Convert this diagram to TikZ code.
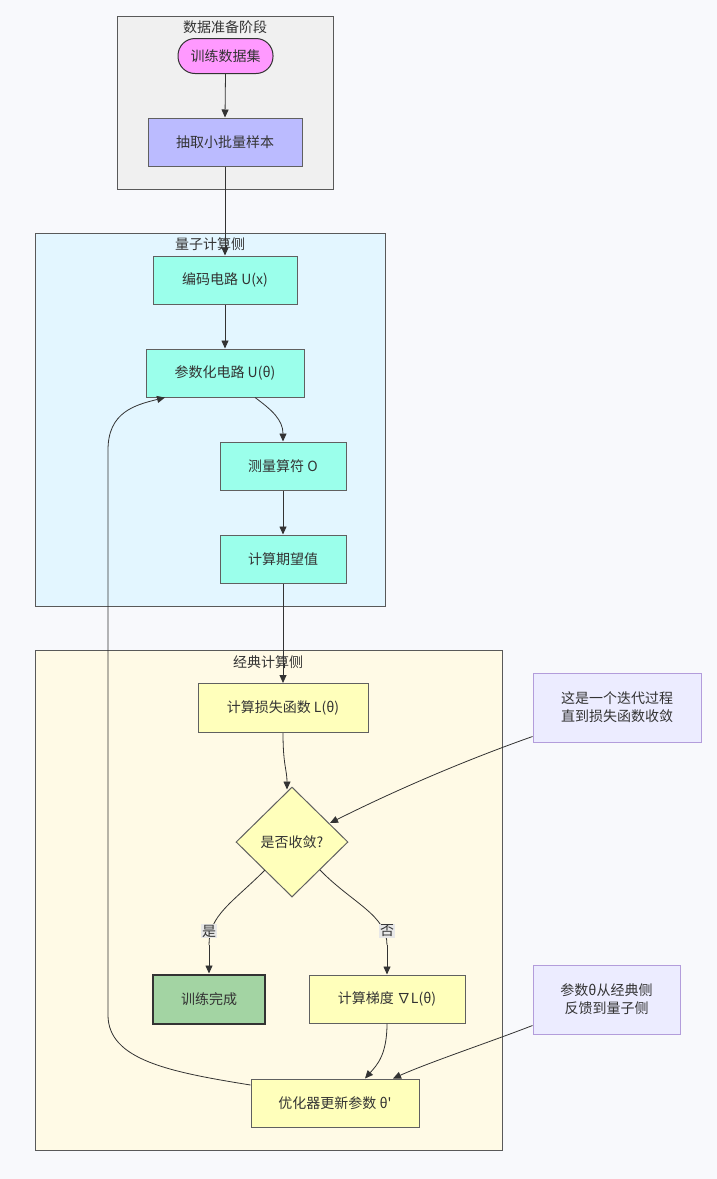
\documentclass[tikz,border=0pt]{standalone}
\usepackage{fontspec}
\setmainfont{Noto Sans CJK SC}[Ligatures=TeXOff]
\usetikzlibrary{arrows.meta,shapes.geometric}
\definecolor{bg}{HTML}{F8F9FC}
\definecolor{ink}{HTML}{333333}
\definecolor{c1fill}{HTML}{F0F0F0}
\definecolor{c2fill}{HTML}{E3F6FF}
\definecolor{c3fill}{HTML}{FFFAE6}
\definecolor{pinkf}{HTML}{FF99FF}
\definecolor{bluef}{HTML}{BBBBFF}
\definecolor{cyanf}{HTML}{9BFFEB}
\definecolor{yelf}{HTML}{FFFFBB}
\definecolor{greenf}{HTML}{A3D4A3}
\definecolor{notef}{HTML}{ECECFF}
\definecolor{notes}{HTML}{B39DDB}
\definecolor{lblf}{HTML}{E8E8E8}
\begin{document}
\begin{tikzpicture}[x=1pt,y=-1pt,
  every node/.style={font=\fontsize{14}{18}\selectfont, text=ink},
  cluster/.style={draw=gray!70!black, line width=1pt, inner sep=0pt},
  ctitle/.style={inner sep=1pt},
  box/.style={draw=gray!75!black, line width=1pt, rectangle, minimum height=48pt, inner sep=0pt},
  note/.style={draw=notes, fill=notef, line width=1pt, rectangle, align=center, inner sep=0pt},
  lbl/.style={fill=lblf, inner sep=1pt},
  edge/.style={draw=ink, line width=0.8pt, -{Triangle[length=8pt,width=7pt]}},
  plain/.style={draw=ink, line width=0.8pt}
]
\fill[bg] (0,0) rectangle (717,1179);
\useasboundingbox (0,0) rectangle (717,1179);

% clusters
\node[cluster, fill=c1fill, minimum width=216pt, minimum height=173pt] (cl1) at (225,102.5) {};
\node[ctitle] (t1) at (225,27) {数据准备阶段};
\node[cluster, fill=c2fill, minimum width=350pt, minimum height=373pt] (cl2) at (210,419.5) {};
\node[ctitle] (t2) at (210,244) {量子计算侧};
\node[cluster, fill=c3fill, minimum width=467pt, minimum height=500pt] (cl3) at (268.5,900) {};
\node[ctitle] (t3) at (268,662) {经典计算侧};

% nodes
\node[draw=ink, line width=1pt, fill=pinkf, rounded corners=17pt, minimum width=95pt, minimum height=35pt, inner sep=0pt] (data) at (225.5,56) {训练数据集};
\node[box, fill=bluef, minimum width=154pt] (batch) at (225,142) {抽取小批量样本};
\node[box, fill=cyanf, minimum width=144pt] (enc) at (225,280) {编码电路 U(x)};
\node[box, fill=cyanf, minimum width=158pt] (par) at (225,373) {参数化电路 U(θ)};
\node[box, fill=cyanf, minimum width=126pt] (meas) at (283,466) {测量算符 O};
\node[box, fill=cyanf, minimum width=126pt] (expv) at (283,559) {计算期望值};
\node[box, fill=yelf, minimum width=170pt, minimum height=49pt] (loss) at (283,708) {计算损失函数 L(θ)};
\node[diamond, draw=gray!75!black, line width=1pt, fill=yelf, minimum width=112pt, minimum height=110pt, inner sep=0pt] (dec) at (292,842) {是否收敛?};
\node[box, fill=greenf, draw=ink, line width=2pt, minimum width=112pt, minimum height=49pt] (done) at (209,999) {训练完成};
\node[box, fill=yelf, minimum width=156pt] (grad) at (387,999) {计算梯度 ∇L(θ)};
\node[box, fill=yelf, minimum width=168pt] (opt) at (335,1103) {优化器更新参数 θ'};
\node[note, minimum width=168pt, minimum height=69pt] (n1) at (617,707.5) {这是一个迭代过程\\直到损失函数收敛};
\node[note, minimum width=147pt, minimum height=69pt] (n2) at (606.5,999.5) {参数θ从经典侧\\反馈到量子侧};

% edges
\draw[edge] (data.south) -- (batch.north);
\draw[edge] (batch.south) -- (enc.north);
\draw[edge] (enc.south) -- (par.north);
\draw[edge] ([xshift=30pt]par.south) .. controls (272,410) and (283,420) .. (meas.north);
\draw[edge] (meas.south) -- (expv.north);
\draw[edge] (expv.south) -- (loss.north);
\draw[edge] (loss.south) .. controls (283,765) and (287,770) .. ([xshift=-5pt,yshift=-3pt]dec.north);
\draw[plain] ([xshift=-27pt,yshift=-28pt]dec.center) .. controls (232,903) and (209,915) .. (209,945) coordinate (yesc);
\draw[edge] (yesc) -- (done.north);
\node[lbl] (yes) at (209,931) {是};
\draw[plain] ([xshift=28pt,yshift=-28pt]dec.center) .. controls (352,903) and (387,915) .. (387,945) coordinate (noc);
\draw[edge] (noc) -- (grad.north);
\node[lbl] (no) at (387,931) {否};
\draw[edge] (grad.south) .. controls (387,1055) and (377,1065) .. ([xshift=30pt]opt.north);
\draw[edge] ([yshift=18pt]opt.west) .. controls (170,1072) and (108,1060) .. (108,1015) -- (108,450) .. controls (108,412) and (135,405) .. ([xshift=-60pt]par.south);
\draw[edge] ([yshift=-29pt]n1.west) .. controls (466,760) and (398,789) .. ([xshift=38pt,yshift=19pt]dec.center);
\draw[edge] ([yshift=-26pt]n2.west) .. controls (490,1042) and (430,1062) .. ([xshift=58pt]opt.north);
\end{tikzpicture}
\end{document}
